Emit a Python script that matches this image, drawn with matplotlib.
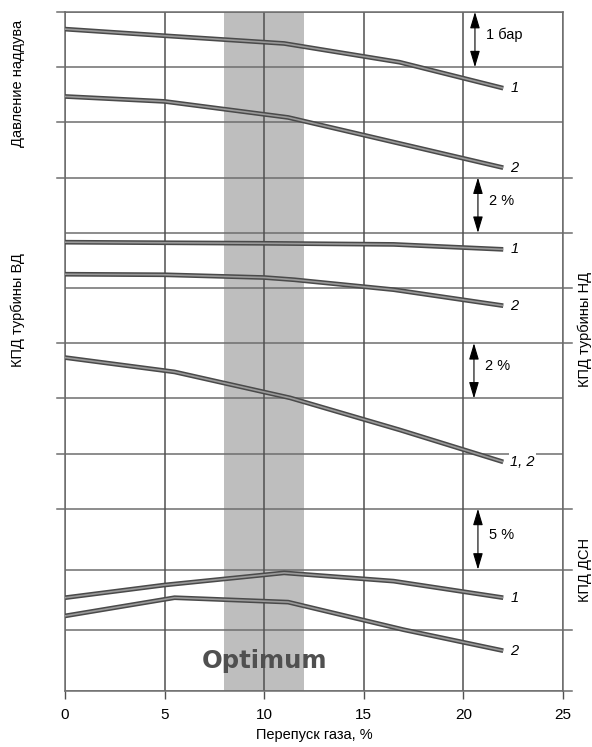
import matplotlib
matplotlib.use("Agg")
import matplotlib.pyplot as plt
from matplotlib import font_manager

# ---------------- data (y in relative grid units; schematic chart) ----------------
x_ticks = [0, 5, 10, 15, 20, 25]
grid_y = [0, 1.1, 2.2, 3.3, 4.3, 5.3, 6.3, 7.3, 8.3, 9.3, 10.3, 11.3, 12.3]
left_ext_y = [12.3, 11.3, 10.3, 9.3, 6.3, 5.3, 4.3, 3.3]
right_ext_y = [9.3, 8.3, 7.3, 6.3, 3.3, 2.2, 1.1, 0]

press1_x = [0, 5, 11, 16.8, 22]
press1_y = [11.99, 11.87, 11.73, 11.39, 10.92]
press2_x = [0, 5, 11.2, 22]
press2_y = [10.77, 10.68, 10.39, 9.48]

nd1_x = [0, 10, 16.5, 22]
nd1_y = [8.13, 8.11, 8.09, 8.00]
nd2_x = [0, 5, 10, 11.5, 16.5, 22]
nd2_y = [7.55, 7.54, 7.49, 7.45, 7.27, 6.98]

vd_x = [0, 5.5, 11.3, 16.8, 22]
vd_y = [6.04, 5.78, 5.31, 4.73, 4.15]

dsn1_x = [0, 5, 11, 16.5, 22]
dsn1_y = [1.69, 1.92, 2.14, 1.99, 1.69]
dsn2_x = [0, 5.5, 11.2, 17, 22]
dsn2_y = [1.36, 1.69, 1.61, 1.11, 0.73]

optimum_range = [8, 12]

curves = [
    (press1_x, press1_y, "1"), (press2_x, press2_y, "2"),
    (nd1_x, nd1_y, "1"), (nd2_x, nd2_y, "2"),
    (vd_x, vd_y, "1, 2"),
    (dsn1_x, dsn1_y, "1"), (dsn2_x, dsn2_y, "2"),
]

# scale arrows
scale_x = [20.58, 20.73, 20.53, 20.73]
scale_lo = [11.3, 8.3, 5.3, 2.2]
scale_hi = [12.3, 9.3, 6.3, 3.3]
scale_lbl = ["1 бар", "2 %", "2 %", "5 %"]

axis_labels_left = [("Давление наддува", 11.0), ("КПД турбины ВД", 6.9)]
axis_labels_right = [("КПД турбины НД", 6.55), ("КПД ДСН", 2.19)]

# ---------------- fonts ----------------
names = {f.name for f in font_manager.fontManager.ttflist}
fam = "Liberation Sans Narrow" if "Liberation Sans Narrow" in names else "Liberation Sans"
plt.rcParams['font.family'] = [fam, 'DejaVu Sans']

fig = plt.figure(figsize=(5.92, 7.47), dpi=100)
ax = fig.add_axes([65/592, 56/747, 498/592, 679/747])
ax.set_xlim(0, 25)
ax.set_ylim(0, 12.3)

ax.axvspan(optimum_range[0], optimum_range[1], color="#bebebe", zorder=0, lw=0)

gcol = "#6e6e6e"
for y in grid_y:
    ax.axhline(y, color=gcol, lw=1.1, zorder=1)
for x in x_ticks:
    ax.axvline(x, color="#505050", lw=1.1, zorder=1)

tr = ax.get_yaxis_transform()
for y in left_ext_y:
    ax.plot([-0.017, 0], [y, y], color=gcol, lw=1.1, transform=tr, clip_on=False)
for y in right_ext_y:
    ax.plot([1, 1.018], [y, y], color=gcol, lw=1.1, transform=tr, clip_on=False)

for xs, ys, lab in curves:
    ax.plot(xs, ys, color="#4a4a4a", lw=3.4, solid_capstyle="butt", zorder=3)
    ax.plot(xs, ys, color="#9a9a9a", lw=1.2, solid_capstyle="butt", zorder=4)
    ax.text(xs[-1] + 0.35, ys[-1], lab, style="italic", fontsize=10.5,
            ha="left", va="center", zorder=5,
            bbox=dict(facecolor="white", edgecolor="none", pad=1.0))

for sx, lo, hi, lab in zip(scale_x, scale_lo, scale_hi, scale_lbl):
    ax.annotate("", xy=(sx, lo), xytext=(sx, hi),
                arrowprops=dict(arrowstyle="<|-|>,head_length=1.0,head_width=0.3",
                                color="black", lw=0.8, shrinkA=0, shrinkB=0),
                zorder=5)
    ax.text(sx + 0.55, (lo + hi) / 2 + 0.08, lab, fontsize=10.5, ha="left",
            va="center", zorder=5,
            bbox=dict(facecolor="white", edgecolor="none", pad=1.0))

ax.text(10, 0.54, "Optimum", fontsize=17.5, fontweight="bold", color="#505050",
        ha="center", va="center", family="DejaVu Sans", zorder=5)

for txt, y in axis_labels_left:
    ax.text(-0.094, y, txt, rotation=90, fontsize=10.5, ha="center", va="center",
            transform=tr)
for txt, y in axis_labels_right:
    ax.text(1.044, y, txt, rotation=90, fontsize=10.5, ha="center", va="center",
            transform=tr)

ax.set_xticks(x_ticks)
ax.set_yticks([])
ax.tick_params(axis="x", length=6, width=1.0, color="#505050", pad=6, labelsize=11)
for s in ax.spines.values():
    s.set_color(gcol)
    s.set_linewidth(1.1)
ax.set_xlabel("Перепуск газа, %", fontsize=10.5)
ax.xaxis.set_label_coords(0.5, -0.055)

fig.savefig("out.png", dpi=100)
